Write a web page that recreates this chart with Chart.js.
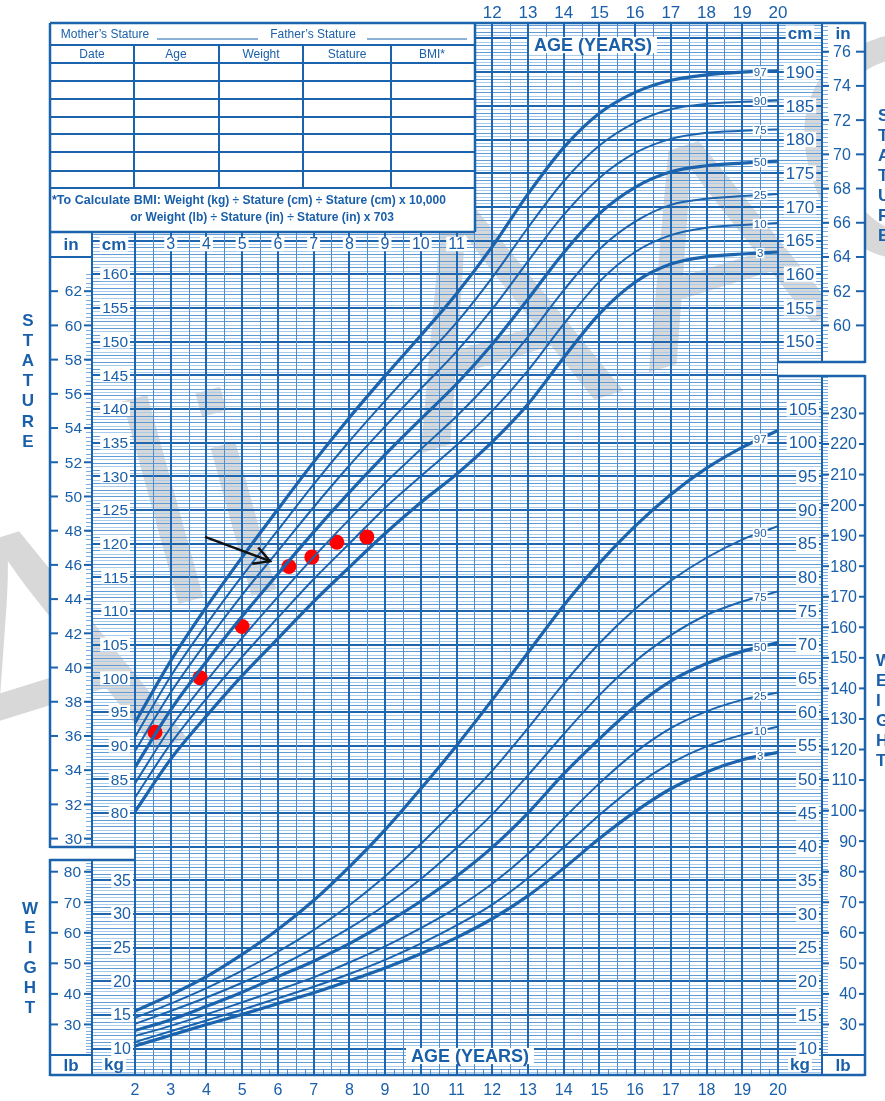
<!DOCTYPE html>
<html>
<head>
<meta charset="utf-8">
<script src="https://cdn.jsdelivr.net/npm/chart.js@4.4.1/dist/chart.umd.min.js"></script>
<style>
html, body { margin: 0; padding: 0; background: #fff; }
#wrap { width: 885px; height: 1101px; position: relative; }
</style>
</head>
<body>
<div id="wrap"><canvas id="growth"></canvas></div>
<script>
// ages on the x axis (years)
const ages = [2, 3, 4, 5, 6, 7, 8, 9, 10, 11, 12, 13, 14, 15, 16, 17, 18, 19, 20];
const percentiles = ['3', '10', '25', '50', '75', '90', '97'];

// stature-for-age, cm
const statureP3  = [80.2, 88.0, 94.4, 100.4, 105.9, 111.4, 116.5, 121.5, 126.1, 130.3, 135.1, 140.7, 147.6, 154.1, 158.8, 161.5, 162.6, 163.0, 163.3];
const statureP10 = [82.3, 90.3, 97.0, 103.2, 109.0, 114.7, 120.0, 125.3, 130.0, 134.6, 139.7, 145.7, 152.6, 158.9, 163.3, 165.8, 166.9, 167.3, 167.6];
const statureP25 = [84.4, 92.7, 99.6, 106.0, 112.1, 118.0, 123.6, 129.0, 134.0, 138.9, 144.4, 150.7, 157.6, 163.7, 167.8, 170.3, 171.2, 171.6, 171.9];
const statureP50 = [86.8, 95.3, 102.5, 109.2, 115.5, 121.7, 127.6, 133.2, 138.5, 143.7, 149.6, 156.3, 163.2, 169.0, 172.9, 175.2, 176.1, 176.5, 176.8];
const statureP75 = [89.2, 97.9, 105.4, 112.4, 118.9, 125.4, 131.6, 137.4, 143.0, 148.5, 154.8, 161.9, 168.8, 174.3, 178.0, 180.1, 181.0, 181.3, 181.5];
const statureP90 = [91.3, 100.3, 108.0, 115.2, 122.0, 128.8, 135.2, 141.2, 147.0, 152.8, 159.5, 166.9, 173.8, 179.1, 182.5, 184.5, 185.3, 185.6, 185.8];
const statureP97 = [93.4, 102.6, 110.6, 118.0, 125.1, 132.1, 138.7, 144.9, 150.9, 157.1, 164.1, 171.9, 178.8, 183.9, 187.0, 188.8, 189.6, 190.0, 190.2];

// weight-for-age, kg
const weightP3  = [10.4, 12.0, 13.6, 15.1, 16.7, 18.3, 20.1, 22.0, 24.1, 26.5, 29.3, 32.7, 36.8, 41.2, 45.2, 48.6, 51.1, 52.9, 54.0];
const weightP10 = [11.0, 12.6, 14.2, 15.8, 17.5, 19.2, 21.1, 23.2, 25.6, 28.3, 31.4, 35.3, 39.9, 44.7, 49.0, 52.4, 54.9, 56.6, 57.8];
const weightP25 = [11.9, 13.4, 15.1, 16.9, 18.7, 20.6, 22.8, 25.2, 27.9, 30.9, 34.5, 38.9, 44.2, 49.4, 54.0, 57.6, 60.1, 61.8, 62.9];
const weightP50 = [12.7, 14.3, 16.3, 18.4, 20.7, 23.0, 25.6, 28.6, 31.9, 35.6, 39.9, 45.0, 50.8, 56.0, 60.8, 64.6, 67.2, 69.0, 70.3];
const weightP75 = [13.7, 15.6, 17.6, 19.8, 22.2, 24.9, 27.9, 31.3, 35.2, 39.8, 44.8, 50.6, 56.7, 62.5, 67.5, 71.4, 74.4, 76.4, 77.9];
const weightP90 = [14.6, 16.7, 19.0, 21.6, 24.4, 27.6, 31.3, 35.6, 40.4, 45.7, 51.3, 57.6, 64.2, 70.2, 75.3, 79.5, 82.9, 85.6, 87.6];
const weightP97 = [15.6, 18.0, 20.7, 24.0, 27.7, 32.0, 37.0, 42.5, 48.6, 55.0, 61.8, 68.8, 75.8, 82.1, 87.6, 92.3, 96.2, 99.3, 101.8];

// plotted visits (red dots)
const visitAges    = [2.56, 3.82, 5.0, 6.31, 6.95, 7.65, 8.49];
const visitStature = [92.0, 100.1, 107.7, 116.6, 118.0, 120.2, 121.0];

// tick labels
const topAgeLabels    = [12, 13, 14, 15, 16, 17, 18, 19, 20];
const innerAgeLabels  = [3, 4, 5, 6, 7, 8, 9, 10, 11];
const bottomAgeLabels = [2, 3, 4, 5, 6, 7, 8, 9, 10, 11, 12, 13, 14, 15, 16, 17, 18, 19, 20];
const cmLeftTicks  = [80, 85, 90, 95, 100, 105, 110, 115, 120, 125, 130, 135, 140, 145, 150, 155, 160];
const inLeftTicks  = [30, 32, 34, 36, 38, 40, 42, 44, 46, 48, 50, 52, 54, 56, 58, 60, 62];
const cmRightTicks = [150, 155, 160, 165, 170, 175, 180, 185, 190];
const inRightTicks = [60, 62, 64, 66, 68, 70, 72, 74, 76];
const kgLeftTicks  = [10, 15, 20, 25, 30, 35];
const lbLeftTicks  = [30, 40, 50, 60, 70, 80];
const kgRightTicks = [10, 15, 20, 25, 30, 35, 40, 45, 50, 55, 60, 65, 70, 75, 80, 85, 90, 95, 100, 105];
const lbRightTicks = [30, 40, 50, 60, 70, 80, 90, 100, 110, 120, 130, 140, 150, 160, 170, 180, 190, 200, 210, 220, 230];

const BLUE = '#1b63ad';
const TXT = '#1a5fa9';
const FONT = '"Liberation Sans", Arial, sans-serif';
const thickSet = ['3', '50', '97'];

const statureSeries = [statureP3, statureP10, statureP25, statureP50, statureP75, statureP90, statureP97];
const weightSeries = [weightP3, weightP10, weightP25, weightP50, weightP75, weightP90, weightP97];

function curve(values, p, axis) {
    return {
        data: ages.map((a, i) => ({ x: a, y: values[i] })),
        yAxisID: axis,
        borderColor: BLUE,
        borderWidth: thickSet.includes(p) ? 3.2 : 2,
        pointRadius: 0,
        fill: false,
        cubicInterpolationMode: 'monotone'
    };
}

const datasets = [];
percentiles.forEach((p, i) => datasets.push(curve(statureSeries[i], p, 'yS')));
percentiles.forEach((p, i) => datasets.push(curve(weightSeries[i], p, 'yW')));
datasets.push({
    type: 'scatter',
    data: visitAges.map((a, i) => ({ x: a, y: visitStature[i] })),
    yAxisID: 'yS',
    pointRadius: 7.5,
    pointBackgroundColor: '#ff0000',
    pointBorderWidth: 0,
    showLine: false
});

function line(ctx, x1, y1, x2, y2, w, c) {
    ctx.beginPath();
    ctx.lineWidth = w;
    ctx.strokeStyle = c || BLUE;
    ctx.moveTo(x1, y1);
    ctx.lineTo(x2, y2);
    ctx.stroke();
}

function text(ctx, s, x, y, size, opts) {
    opts = opts || {};
    ctx.font = (opts.bold ? 'bold ' : '') + size + 'px ' + FONT;
    ctx.textAlign = opts.align || 'center';
    ctx.textBaseline = 'middle';
    if (opts.bg) {
        const w = ctx.measureText(s).width;
        let left = x - w / 2;
        if (ctx.textAlign === 'right') left = x - w;
        if (ctx.textAlign === 'left') left = x;
        ctx.fillStyle = '#fff';
        ctx.fillRect(left - (opts.pad || 2), y - size * 0.45, w + 2 * (opts.pad || 2), size * 0.9);
    }
    ctx.fillStyle = opts.color || TXT;
    ctx.fillText(s, x, y + 1);
}

// watermark glyphs: letter, centre x, centre y, size, angle
const watermark = [
    ['A', 35, 650, 360, -0.3],
    ['l', 163, 500, 290, -0.27],
    ['i', 236, 492, 290, -0.27],
    ['A', 488, 312, 320, -0.3],
    ['A', 712, 240, 300, -0.3],
    ['C', 905, 143, 320, -0.3]
];

const paper = {
    id: 'paper',
    beforeDatasetsDraw(chart) {
        const ctx = chart.ctx;
        const xs = chart.scales.x, ys = chart.scales.yS, yw = chart.scales.yW;
        const top = chart.chartArea.top, bot = chart.chartArea.bottom;
        const x2 = xs.getPixelForValue(2), x20 = xs.getPixelForValue(20);
        ctx.save();
        ctx.fillStyle = '#fff';
        ctx.fillRect(0, 0, chart.width, chart.height);

        // faint watermark behind the grid
        watermark.forEach(([ch, cx, cy, size, ang]) => {
            ctx.save();
            ctx.translate(cx, cy);
            ctx.rotate(ang);
            ctx.font = size + 'px ' + FONT;
            ctx.textAlign = 'center';
            ctx.textBaseline = 'alphabetic';
            ctx.fillStyle = '#d8d8d8';
            ctx.fillText(ch, 0, size * 0.36);
            ctx.restore();
        });

        // horizontal grid (stature cm; weight kg shares the same spacing)
        for (let v = 41.5; v <= 197.2; v += 0.5) {
            const major = Math.abs(v % 5) < 1e-6;
            const whole = Math.abs(v % 1) < 1e-6;
            const py = Math.round(ys.getPixelForValue(v)) + (major ? 0 : 0.5);
            const w = major ? 2 : 1;
            const c = major ? '#1f66b1' : (whole ? '#5f9bd6' : '#a9cbec');
            line(ctx, x2, py, x20, py, w, c);
            if (py >= 232 && (py <= 847 || py >= 860)) line(ctx, 92, py, x2, py, w, c);
            if (py <= 362 || py >= 376) line(ctx, x20, py, 822, py, w, c);
        }
        // vertical grid, half years
        for (let a = 2; a <= 20; a += 0.5) {
            const px = Math.round(xs.getPixelForValue(a)) + (a % 1 === 0 ? 0 : 0.5);
            line(ctx, px, top, px, bot, a % 1 === 0 ? 2 : 1, a % 1 === 0 ? '#1f66b1' : '#4f8ccb');
        }
        for (let a = 2.25; a < 20; a += 0.5) {
            const px = Math.round(xs.getPixelForValue(a)) + 0.5;
            line(ctx, px, bot - 6, px, bot, 1, '#4f8ccb');
        }

        // left "in" and right "in"/"lb" columns: clear, then ticks
        ctx.fillStyle = '#fff';
        ctx.fillRect(50, 232, 42, 615);
        ctx.fillRect(50, 860, 42, 215);
        ctx.fillRect(822, 23, 43, 339);
        ctx.fillRect(822, 376, 43, 699);
        ctx.fillRect(778, 362, 87, 14);
        for (let i = 29.5; i <= 63; i += 0.25) {
            const py = Math.round(ys.getPixelForValue(i * 2.54)) + 0.5;
            if (py > 258 && py < 846) line(ctx, 86, py, 92, py, 1, '#7eaee0');
        }
        for (let i = 58.5; i <= 77.5; i += 0.25) {
            const py = Math.round(ys.getPixelForValue(i * 2.54)) + 0.5;
            if (py > 24 && py < 361) line(ctx, 822, py, 828, py, 1, '#7eaee0');
        }
        for (let lb = 20; lb <= 90; lb += 1) {
            const py = Math.round(yw.getPixelForValue(lb * 0.45359)) + 0.5;
            if (py > 861 && py < 1054) line(ctx, 86, py, 92, py, 1, '#7eaee0');
        }
        for (let lb = 14; lb <= 242; lb += 1) {
            const py = Math.round(yw.getPixelForValue(lb * 0.45359)) + 0.5;
            if (py > 377 && py < 1054) line(ctx, 822, py, 828, py, 1, '#7eaee0');
        }

        // table
        ctx.fillStyle = '#fff';
        ctx.fillRect(50, 23, 425, 209);
        const rows = [45, 63, 81, 99, 117, 134, 152, 171, 188];
        rows.forEach(r => line(ctx, 50, r, 475, r, 2));
        [134, 219, 303, 391].forEach(c => line(ctx, c, 45, c, 188, 2));
        text(ctx, "Mother\u2019s Stature", 105, 34, 12);
        line(ctx, 157, 39, 258, 39, 1);
        text(ctx, "Father\u2019s Stature", 313, 34, 12);
        line(ctx, 367, 39, 467, 39, 1);
        const heads = ['Date', 'Age', 'Weight', 'Stature', 'BMI*'];
        const cx = [92, 176, 261, 347, 432];
        heads.forEach((h, i) => text(ctx, h, cx[i], 54, 12));
        ctx.textBaseline = 'middle';
        ctx.fillStyle = TXT;
        ctx.textAlign = 'left';
        ctx.font = 'bold 12.5px ' + FONT;
        const lead = '*To Calculate BMI:';
        ctx.fillText(lead, 52, 201);
        const lw = ctx.measureText(lead).width;
        ctx.font = 'bold 12px ' + FONT;
        const rest = ' Weight (kg) \u00f7 Stature (cm) \u00f7 Stature (cm) x 10,000';
        const rw = ctx.measureText(rest).width;
        ctx.save();
        ctx.translate(52 + lw, 201);
        ctx.scale(Math.min(1, (420 - lw) / rw), 1);
        ctx.fillText(rest, 0, 0);
        ctx.restore();
        ctx.textAlign = 'center';
        ctx.fillText('or Weight (lb) \u00f7 Stature (in) \u00f7 Stature (in) x 703', 262, 218);

        // frames
        const F = 2.5;
        line(ctx, 50, 23, 865, 23, F);
        line(ctx, 50, 232, 475, 232, F);
        line(ctx, 50, 23, 50, 232, F);
        line(ctx, 475, 23, 475, 232, F);
        line(ctx, 50, 232, 50, 848, F);
        line(ctx, 50, 847, x2, 847, F);
        line(ctx, 50, 860, x2, 860, F);
        line(ctx, 50, 859, 50, 1076, F);
        line(ctx, 50, 1075, 865, 1075, F);
        line(ctx, 92, 232, 92, 847, 2);
        line(ctx, 92, 860, 92, 1075, 2);
        line(ctx, 50, 257, 92, 257, 2);
        line(ctx, 50, 1055, 92, 1055, 2);
        line(ctx, 822, 1055, 865, 1055, 2);
        line(ctx, 865, 22, 865, 363, F);
        line(ctx, x20, 362, 865, 362, F);
        line(ctx, x20, 376, 865, 376, F);
        line(ctx, 865, 375, 865, 1076, F);
        line(ctx, 822, 23, 822, 362, 2);
        line(ctx, 822, 376, 822, 1075, 2);

        // stature labels
        cmLeftTicks.forEach(v => text(ctx, String(v), 128, ys.getPixelForValue(v), 15.5, { align: 'right', bg: true }));
        inLeftTicks.forEach(v => {
            const py = ys.getPixelForValue(v * 2.54);
            line(ctx, 50, py, 58, py, 2);
            line(ctx, 84, py, 92, py, 2);
            text(ctx, String(v), 82, py, 15.5, { align: 'right' });
        });
        cmRightTicks.forEach(v => text(ctx, String(v), 800, ys.getPixelForValue(v), 17, { bg: true }));
        inRightTicks.forEach(v => {
            const py = ys.getPixelForValue(v * 2.54);
            line(ctx, 822, py, 829, py, 2);
            line(ctx, 856, py, 865, py, 2);
            text(ctx, String(v), 842, py, 16);
        });
        // weight labels
        kgLeftTicks.forEach(v => text(ctx, String(v), 131, yw.getPixelForValue(v), 16, { align: 'right', bg: true }));
        lbLeftTicks.forEach(v => {
            const py = yw.getPixelForValue(v * 0.45359);
            line(ctx, 50, py, 58, py, 2);
            line(ctx, 84, py, 92, py, 2);
            text(ctx, String(v), 81, py, 15.5, { align: 'right' });
        });
        kgRightTicks.forEach(v => text(ctx, String(v), 817, yw.getPixelForValue(v), 17, { align: 'right', bg: true }));
        lbRightTicks.forEach(v => {
            const py = yw.getPixelForValue(v * 0.45359);
            line(ctx, 822, py, 829, py, 2);
            line(ctx, 859, py, 865, py, 2);
            text(ctx, String(v), 857, py, 16, { align: 'right' });
        });

        // unit headers
        text(ctx, 'in', 71, 244, 17, { bold: true });
        text(ctx, 'cm', 114, 244, 17, { bold: true, bg: true });
        text(ctx, 'lb', 71, 1065, 17, { bold: true });
        text(ctx, 'kg', 114, 1064, 17, { bold: true, bg: true });
        text(ctx, 'cm', 800, 33, 17, { bold: true, bg: true });
        text(ctx, 'in', 843, 33, 17, { bold: true });
        text(ctx, 'kg', 800, 1064, 17, { bold: true, bg: true });
        text(ctx, 'lb', 843, 1065, 17, { bold: true });

        // age labels
        topAgeLabels.forEach(a => text(ctx, String(a), xs.getPixelForValue(a), 12, 17));
        innerAgeLabels.forEach(a => text(ctx, String(a), xs.getPixelForValue(a), 244, 16, { bg: true }));
        bottomAgeLabels.forEach(a => text(ctx, String(a), xs.getPixelForValue(a), 1090, 16));
        text(ctx, 'AGE (YEARS)', 593, 45, 18, { bold: true, bg: true, pad: 5 });
        text(ctx, 'AGE (YEARS)', 470, 1056, 18, { bold: true, bg: true, pad: 5 });

        // side titles
        'STATURE'.split('').forEach((ch, i) => text(ctx, ch, 28, 320 + i * 20.2, 17, { bold: true }));
        'WEIGHT'.split('').forEach((ch, i) => text(ctx, ch, 30, 908 + i * 19.8, 17, { bold: true }));
        'STATURE'.split('').forEach((ch, i) => text(ctx, ch, 878, 115 + i * 20, 17, { bold: true, align: 'left' }));
        'WEIGHT'.split('').forEach((ch, i) => text(ctx, ch, 876, 660 + i * 20, 17, { bold: true, align: 'left' }));
        ctx.restore();
    },
    afterDatasetsDraw(chart) {
        const ctx = chart.ctx;
        const xs = chart.scales.x, ys = chart.scales.yS, yw = chart.scales.yW;
        ctx.save();
        const lx = xs.getPixelForValue(19.5);
        const n = ages.length;
        percentiles.forEach((p, i) => {
            const s = statureSeries[i], w = weightSeries[i];
            text(ctx, p, lx, ys.getPixelForValue((s[n - 2] + s[n - 1]) / 2), 11.5, { bg: true, pad: 1 });
            text(ctx, p, lx, yw.getPixelForValue((w[n - 2] + w[n - 1]) / 2), 11.5, { bg: true, pad: 1 });
        });
        // annotation arrow
        const sx = xs.getPixelForValue(3.96), sy = ys.getPixelForValue(121.0);
        const tx = xs.getPixelForValue(5.78), ty = ys.getPixelForValue(117.4);
        const ang = Math.atan2(ty - sy, tx - sx);
        line(ctx, sx, sy, tx, ty, 2.5, '#111');
        ctx.beginPath();
        ctx.lineWidth = 2.5;
        ctx.strokeStyle = '#111';
        ctx.moveTo(tx - 18 * Math.cos(ang - 0.5), ty - 18 * Math.sin(ang - 0.5));
        ctx.lineTo(tx, ty);
        ctx.lineTo(tx - 18 * Math.cos(ang + 0.5), ty - 18 * Math.sin(ang + 0.5));
        ctx.stroke();
        ctx.restore();
    }
};

new Chart(document.getElementById('growth'), {
    type: 'line',
    data: { datasets: datasets },
    options: {
        responsive: true,
        maintainAspectRatio: false,
        animation: false,
        layout: { padding: { left: 135, right: 107, top: 23, bottom: 26 } },
        plugins: { legend: { display: false }, tooltip: { enabled: false } },
        scales: {
            x: { type: 'linear', min: 2, max: 20, display: false },
            yS: { type: 'linear', min: 41.1, max: 197.3, display: false },
            yW: { type: 'linear', min: 6.1, max: 162.3, display: false }
        }
    },
    plugins: [paper]
});
</script>
</body>
</html>
